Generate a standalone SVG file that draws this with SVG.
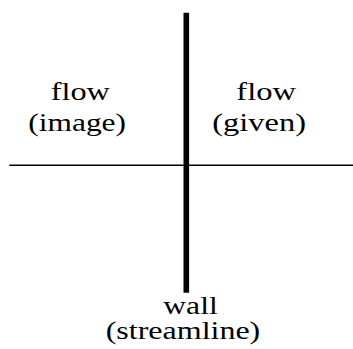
<svg xmlns="http://www.w3.org/2000/svg" width="353" height="349" viewBox="0 0 353 349">
<style>
text{font-family:'Liberation Serif','Times New Roman',serif;font-size:25px;fill:#000}
.wall{stroke:#000;stroke-width:5.6;fill:none}
.line{stroke:#000;stroke-width:1.4;fill:none}
</style>
<rect width="353" height="349" fill="#fff"/>
<g id="connectors">
<line class="line" x1="9.3" y1="165.3" x2="353" y2="165.3"/>
<line class="wall" x1="186.3" y1="12.7" x2="186.3" y2="292.7"/>
</g>
<g id="flow-image">
<text x="50.7" y="99.5" textLength="59.3" lengthAdjust="spacingAndGlyphs">flow</text>
<text x="28.3" y="130.5" textLength="97.7" lengthAdjust="spacingAndGlyphs">(image)</text>
</g>
<g id="flow-given">
<text x="236.3" y="99.5" textLength="59.7" lengthAdjust="spacingAndGlyphs">flow</text>
<text x="212.3" y="130.5" textLength="93.7" lengthAdjust="spacingAndGlyphs">(given)</text>
</g>
<g id="wall-streamline">
<text x="163.3" y="314" textLength="54.4" lengthAdjust="spacingAndGlyphs">wall</text>
<text x="105.7" y="339" textLength="154.6" lengthAdjust="spacingAndGlyphs">(streamline)</text>
</g>
</svg>
